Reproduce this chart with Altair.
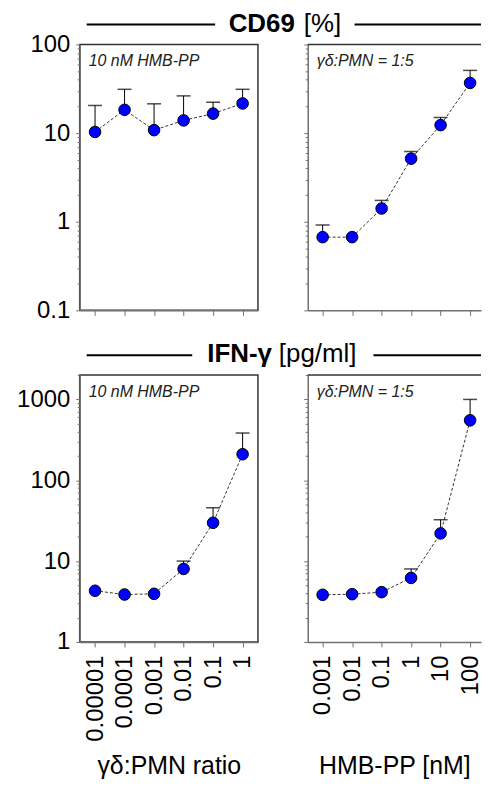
import altair as alt
import pandas as pd

# ---------------- data ----------------
ratio_labels = ["0.00001", "0.0001", "0.001", "0.01", "0.1", "1"]
hmb_labels = ["0.001", "0.01", "0.1", "1", "10", "100"]

cd69_ratio_mean = [10.3, 18.3, 10.8, 13.9, 16.6, 21.6]
cd69_ratio_upper = [20.5, 31.2, 21.4, 26.3, 22.3, 31.2]

cd69_hmb_mean = [0.67, 0.67, 1.41, 5.15, 12.3, 36.8]
cd69_hmb_upper = [0.92, None, 1.74, 6.2, 15.0, 51.0]

ifn_ratio_mean = [4.3, 3.86, 3.94, 8.0, 29.8, 210.0]
ifn_ratio_upper = [None, None, None, 10.0, 45.7, 384.0]

ifn_hmb_mean = [3.83, 3.9, 4.13, 6.2, 22.0, 551.0]
ifn_hmb_upper = [None, None, None, 8.0, 32.5, 1000.0]

cd69_major = [0.1, 1, 10, 100]
cd69_minor = [round(m * 10 ** e, 6) for e in (-1, 0, 1) for m in range(2, 10)]
ifn_major = [1, 10, 100, 1000]
ifn_minor = [round(m * 10 ** e, 6) for e in (0, 1, 2) for m in range(2, 10)] + [2000]

FONT = "Liberation Sans"
AXIS_GRAY = "#707070"
FRAME = "#333333"


def js_list(vals):
    return "[" + ",".join(repr(v) for v in vals) + "]"


def panel(labels, mean, upper, ymajor, yminor, ydomain, xdomain, width, height,
          show_ylabels, show_xlabels, xtitle, note, header=None, open_right=False):
    df = pd.DataFrame({"idx": list(range(len(labels))), "mean": mean, "upper": upper})
    xscale = alt.Scale(domain=xdomain, nice=False, zero=False)
    yscale = alt.Scale(type="log", domain=ydomain, nice=False)

    xaxis_kw = dict(
        values=list(range(len(labels))), tickSize=5, tickColor=AXIS_GRAY,
        domainColor=AXIS_GRAY, domainWidth=1.5, grid=False,
    )
    if show_xlabels:
        xaxis_kw.update(
            labels=True,
            labelExpr="[" + ",".join(f"'{l}'" for l in labels) + "][datum.value]",
            labelAngle=270, labelFontSize=24, labelFont=FONT, labelColor="black",
            labelPadding=8, labelOverlap=False, labelFlush=False,
            title=xtitle, titleFontSize=25, titleFont=FONT, titleFontWeight="normal",
            titleColor="black", titleY=132, titleBaseline="alphabetic",
        )
    else:
        xaxis_kw.update(labels=False, title=None)
    xaxis = alt.Axis(**xaxis_kw)

    major_test = f"indexof({js_list(ymajor)}, datum.value) >= 0"
    yaxis_kw = dict(
        values=ymajor + yminor, tickColor=AXIS_GRAY, domainColor=AXIS_GRAY,
        domainWidth=1.5, grid=False, title=None,
        tickSize={"condition": {"test": major_test, "value": 4}, "value": 2.5},
    )
    if show_ylabels:
        yaxis_kw.update(
            labels=True, format="~g",
            labelExpr=f"{major_test} ? datum.label : ''",
            labelFontSize=24, labelFont=FONT, labelColor="black",
            labelPadding=6, labelOverlap=False, labelFlush=False,
        )
    else:
        yaxis_kw.update(labels=False)
    yaxis = alt.Axis(**yaxis_kw)

    X = alt.X("idx:Q", scale=xscale, axis=xaxis)
    Ymean = alt.Y("mean:Q", scale=yscale, axis=yaxis)

    base = alt.Chart(df)
    line = base.mark_line(color="black", strokeWidth=0.8, strokeDash=[3, 2]).encode(x=X, y=Ymean)
    err = base.transform_filter("isValid(datum.upper)").mark_rule(
        color="black", strokeWidth=1).encode(x=X, y=Ymean, y2="upper:Q")
    cap = base.transform_filter("isValid(datum.upper)").mark_tick(
        color="black", orient="horizontal", size=14, thickness=1.5).encode(
        x=X, y=alt.Y("upper:Q", scale=yscale, axis=yaxis))
    pts = base.mark_circle(size=135, color="#0000ff", opacity=1, stroke="black",
                           strokeWidth=1).encode(x=X, y=Ymean)

    one = alt.Chart(pd.DataFrame({"k": [0]}))
    txt = one.mark_text(text=note, align="left", baseline="alphabetic", fontStyle="italic",
                        fontSize=16, font=FONT, color="#222222").encode(
        x=alt.value(9), y=alt.value(22))

    layers = [line, err, cap, pts, txt]
    if open_right:
        # panel runs off the right edge: only a top border line, no right border
        layers.append(one.mark_rule(color=FRAME, strokeWidth=1.5).encode(
            x=alt.value(0), x2=alt.value(width), y=alt.value(0)))
    if header is not None:
        bold, regular, lx2, rx1, rx2, bold_right, reg_left = header
        layers += [
            one.mark_rule(color="black", strokeWidth=2).encode(
                x=alt.value(7), x2=alt.value(lx2), y=alt.value(-20)),
            one.mark_rule(color="black", strokeWidth=2).encode(
                x=alt.value(rx1), x2=alt.value(rx2), y=alt.value(-20)),
            one.mark_text(text=bold, align="right", baseline="alphabetic", fontSize=26,
                          fontWeight="bold", font=FONT, color="black").encode(
                x=alt.value(bold_right), y=alt.value(-13)),
            one.mark_text(text=regular, align="left", baseline="alphabetic", fontSize=26,
                          font=FONT, color="black").encode(
                x=alt.value(reg_left), y=alt.value(-13)),
        ]
    ch = alt.layer(*layers).properties(width=width, height=height)
    if open_right:
        ch = ch.properties(view=alt.ViewBackground(stroke="transparent"))
    return ch


LEFT_X = [-0.52, 5.52]
RIGHT_X = [-0.505, 5.37]
RIGHT_W = 174

tl = panel(ratio_labels, cd69_ratio_mean, cd69_ratio_upper, cd69_major, cd69_minor,
           [0.1, 100], LEFT_X, 179, 267, True, False, None, "10 nM HMB-PP",
           header=("CD69", "[%]", 136, 276, 403, 216, 225))
tr = panel(hmb_labels, cd69_hmb_mean, cd69_hmb_upper, cd69_major, cd69_minor,
           [0.1, 100], RIGHT_X, RIGHT_W, 267, False, False, None, "γδ:PMN = 1:5",
           open_right=True)
bl = panel(ratio_labels, ifn_ratio_mean, ifn_ratio_upper, ifn_major, ifn_minor,
           [1, 2000], LEFT_X, 179, 268, True, True, "γδ:PMN ratio", "10 nM HMB-PP",
           header=("IFN-γ", "[pg/ml]", 113, 295, 403, 193, 200))
br = panel(hmb_labels, ifn_hmb_mean, ifn_hmb_upper, ifn_major, ifn_minor,
           [1, 2000], RIGHT_X, RIGHT_W, 268, False, True, "HMB-PP [nM]", "γδ:PMN = 1:5",
           open_right=True)

chart = alt.concat(tl, tr, bl, br, columns=2, spacing={"row": 65, "column": 50},
                   bounds="flush").properties(
    padding={"left": 7, "top": 0, "right": 0, "bottom": 0}
).configure(font=FONT).configure_view(stroke=FRAME, strokeWidth=1.5)

chart.save("out.html", embed_options={"renderer": "svg", "actions": False})
